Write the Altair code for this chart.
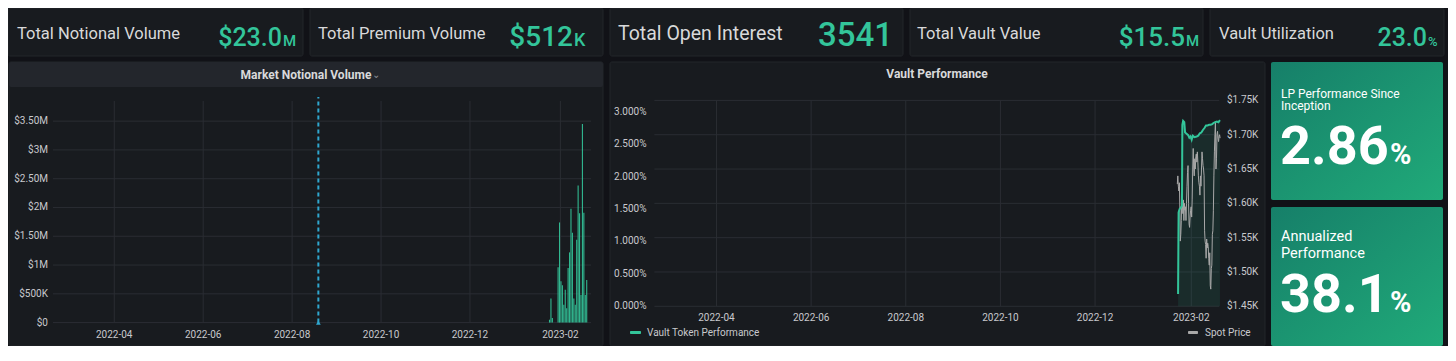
import altair as alt
import pandas as pd

# ---------------- colours / fonts ----------------
BG = "#111217"
PANEL = "#181b1f"
HEADER = "#23262c"
BORDER = "#23262b"
GRID = "#2a2d33"
TXT = "#d8d9da"
AX = "#c8c9cd"
GREEN = "#33c59a"
GRAY = "#a8a8a8"
ANNO = "#2fa7cf"
FONT = "Roboto"
W, H = 1440, 338

# ---------------- stat tiles ----------------
stat_titles = ["Total Notional Volume", "Total Premium Volume", "Total Open Interest",
               "Total Vault Value", "Vault Utilization"]
stat_values = ["$23.0", "$512", "3541", "$15.5", "23.0"]
stat_units = ["M", "K", "", "M", "%"]
lp_title = ["LP Performance Since", "Inception"]
lp_value, lp_unit = "2.86", "%"
ann_title = ["Annualized", "Performance"]
ann_value, ann_unit = "38.1", "%"

# ---------------- Market Notional Volume (daily) ----------------
vol_dates = ["2023-01-27", "2023-01-28", "2023-01-29",
             "2023-02-02", "2023-02-03", "2023-02-04", "2023-02-05", "2023-02-06",
             "2023-02-07", "2023-02-08", "2023-02-09", "2023-02-10", "2023-02-11",
             "2023-02-12", "2023-02-13", "2023-02-14", "2023-02-15", "2023-02-16",
             "2023-02-17", "2023-02-18", "2023-02-19", "2023-02-20", "2023-02-21",
             "2023-02-22"]
vol_values = [0.05e6, 0.42e6, 0.08e6,
              0.96e6, 1.74e6, 0.72e6, 0.65e6, 0.31e6,
              0.57e6, 0.25e6, 0.95e6, 1.22e6, 1.98e6,
              1.56e6, 0.42e6, 0.31e6, 1.44e6, 2.38e6,
              1.90e6, 0.48e6, 3.45e6, 1.91e6, 0.48e6,
              0.74e6]
vol_ticks = [0, 0.5e6, 1e6, 1.5e6, 2e6, 2.5e6, 3e6, 3.5e6]
vol_tick_labels = ["$0", "$500K", "$1M", "$1.50M", "$2M", "$2.50M", "$3M", "$3.50M"]
annotation_date = ["2022-08-19"]

month_ticks = ["2022-04-01", "2022-06-01", "2022-08-01", "2022-10-01", "2022-12-01", "2023-02-01"]
month_labels = ["2022-04", "2022-06", "2022-08", "2022-10", "2022-12", "2023-02"]

# ---------------- Vault Performance ----------------
perf_dates = ["2023-01-23T12:00", "2023-01-23T20:00", "2023-01-24T12:00", "2023-01-25T06:00",
              "2023-01-26T00:00", "2023-01-26T06:00", "2023-01-26T18:00", "2023-01-27T12:00",
              "2023-01-28T00:00", "2023-01-29T00:00", "2023-01-30T00:00", "2023-01-30T18:00",
              "2023-01-31T12:00", "2023-02-01T06:00", "2023-02-02T00:00", "2023-02-03T00:00",
              "2023-02-04T12:00", "2023-02-05T12:00", "2023-02-06T12:00", "2023-02-07T12:00",
              "2023-02-08T12:00", "2023-02-09T12:00", "2023-02-10T12:00", "2023-02-11T12:00",
              "2023-02-12T12:00", "2023-02-13T12:00", "2023-02-14T12:00", "2023-02-15T12:00",
              "2023-02-16T12:00", "2023-02-17T12:00", "2023-02-18T12:00", "2023-02-19T12:00"]
perf_values = [0.19, 1.45, 1.50, 1.52,
               1.55, 2.80, 2.86, 2.84,
               2.68, 2.66, 2.64, 2.60,
               2.62, 2.57, 2.63, 2.61,
               2.62, 2.63, 2.67, 2.68,
               2.72, 2.75, 2.79, 2.79,
               2.80, 2.80, 2.81, 2.83,
               2.84, 2.85, 2.84, 2.87]

spot_dates = ["2023-01-23T00:00", "2023-01-23T08:00", "2023-01-23T16:00", "2023-01-24T00:00",
              "2023-01-24T08:00", "2023-01-24T16:00", "2023-01-24T22:00", "2023-01-25T06:00",
              "2023-01-25T14:00", "2023-01-25T22:00", "2023-01-26T06:00", "2023-01-26T14:00",
              "2023-01-26T22:00", "2023-01-27T06:00", "2023-01-27T14:00", "2023-01-27T22:00",
              "2023-01-28T06:00", "2023-01-28T14:00", "2023-01-28T22:00", "2023-01-29T06:00",
              "2023-01-29T14:00", "2023-01-29T22:00", "2023-01-30T06:00", "2023-01-30T14:00",
              "2023-01-30T22:00", "2023-01-31T06:00", "2023-01-31T14:00", "2023-01-31T22:00",
              "2023-02-01T06:00", "2023-02-01T14:00", "2023-02-01T22:00", "2023-02-02T06:00",
              "2023-02-02T14:00", "2023-02-02T22:00", "2023-02-03T06:00", "2023-02-03T14:00",
              "2023-02-03T22:00", "2023-02-04T06:00", "2023-02-04T14:00", "2023-02-04T22:00",
              "2023-02-05T06:00", "2023-02-05T14:00", "2023-02-05T22:00", "2023-02-06T06:00",
              "2023-02-06T14:00", "2023-02-06T22:00", "2023-02-07T06:00", "2023-02-07T14:00",
              "2023-02-07T22:00", "2023-02-08T06:00", "2023-02-08T14:00", "2023-02-08T22:00",
              "2023-02-09T06:00", "2023-02-09T14:00", "2023-02-09T22:00", "2023-02-10T06:00",
              "2023-02-10T14:00", "2023-02-10T22:00", "2023-02-11T06:00", "2023-02-11T14:00",
              "2023-02-11T22:00", "2023-02-12T06:00", "2023-02-12T14:00", "2023-02-12T22:00",
              "2023-02-13T06:00", "2023-02-13T14:00", "2023-02-13T22:00", "2023-02-14T06:00",
              "2023-02-14T14:00", "2023-02-14T22:00", "2023-02-15T06:00", "2023-02-15T14:00",
              "2023-02-15T22:00", "2023-02-16T06:00", "2023-02-16T14:00", "2023-02-16T22:00",
              "2023-02-17T06:00", "2023-02-17T14:00", "2023-02-17T22:00", "2023-02-18T06:00",
              "2023-02-18T14:00", "2023-02-18T22:00", "2023-02-19T06:00", "2023-02-19T14:00"]
spot_values = [1628, 1640, 1625, 1618,
               1630, 1590, 1545, 1555,
               1575, 1610, 1600, 1585,
               1605, 1575, 1600, 1590,
               1595, 1575, 1600, 1625,
               1645, 1655, 1600, 1570,
               1565, 1580, 1590, 1595,
               1580, 1605, 1650, 1680,
               1650, 1640, 1665, 1650,
               1668, 1672, 1660, 1675,
               1660, 1640, 1630, 1625,
               1612, 1640, 1625, 1650,
               1675, 1665, 1655, 1650,
               1640, 1560, 1545, 1540,
               1520, 1548, 1535, 1542,
               1537, 1520, 1510, 1528,
               1480, 1475, 1505, 1510,
               1555, 1560, 1590, 1640,
               1675, 1700, 1720, 1650,
               1665, 1700, 1705, 1695,
               1690, 1698, 1700, 1695]
pct_ticks = [0, 0.5, 1.0, 1.5, 2.0, 2.5, 3.0]
pct_tick_labels = ["0.000%", "0.500%", "1.000%", "1.500%", "2.000%", "2.500%", "3.000%"]
price_ticks = [1450, 1500, 1550, 1600, 1650, 1700, 1750]
price_tick_labels = ["$1.45K", "$1.50K", "$1.55K", "$1.60K", "$1.65K", "$1.70K", "$1.75K"]

# ---------------- layout (pixel boxes of dashboard panels) ----------------
panel_boxes = pd.DataFrame({
    "x": [0, 302, 602, 902, 1202, 1, 602],
    "x2": [295, 595, 895, 1195, 1436, 595, 1257],
    "y": [0, 0, 0, 0, 0, 54, 54],
    "y2": [48, 48, 48, 48, 48, 338, 338],
})
header_box = pd.DataFrame({"x": [1], "x2": [595], "y": [54], "y2": [79]})
green_boxes = pd.DataFrame({"x": [1263, 1263], "x2": [1435, 1435], "y": [54, 199], "y2": [192, 338]})

pxs = alt.Scale(domain=[0, W], range=[0, W], nice=False, zero=False)
pys = alt.Scale(domain=[0, H], range=[0, H], nice=False, zero=False)

def box_layer(df, **mark):
    return alt.Chart(df).mark_rect(**mark).encode(
        x=alt.X("x:Q", scale=pxs, axis=None), x2="x2:Q",
        y=alt.Y("y:Q", scale=pys, axis=None), y2="y2:Q")

def D(y, m, d):
    return alt.DateTime(year=y, month=m, date=d)

# scales of panel 1
xs1 = alt.Scale(domain=[D(2022, 2, 18), D(2023, 2, 22)], range=[45, 583], nice=False)
ys1 = alt.Scale(domain=[0, 3.85e6], range=[314.6, 93], nice=False, zero=False)
# scales of panel 2
xs2 = alt.Scale(domain=[D(2022, 2, 20), D(2023, 2, 19)], range=[646.4, 1211.2], nice=False)
ysL = alt.Scale(domain=[0, 3.176], range=[298.3, 92.4], nice=False, zero=False)
ysR = alt.Scale(domain=[1450, 1750], range=[298.3, 92.4], nice=False, zero=False)

one = alt.Data(values=[{"a": 1}])

def label(txt, x, y, size, color=TXT, align="left", weight="normal", baseline="middle"):
    return alt.Chart(one).mark_text(text=txt, fontSize=size, color=color, align=align,
                                    fontWeight=weight, baseline=baseline, font=FONT).encode(
        x=alt.value(x), y=alt.value(y))

layers = []
layers.append(box_layer(panel_boxes, fill=PANEL, stroke=BORDER, strokeWidth=1, cornerRadius=2))
layers.append(box_layer(header_box, fill=HEADER, cornerRadius=2))
grad = alt.LinearGradient(gradient="linear",
                          stops=[alt.GradientStop(color="#167f69", offset=0),
                                 alt.GradientStop(color="#20aa79", offset=1)],
                          x1=0, y1=0, x2=1, y2=1)
layers.append(box_layer(green_boxes, fill=grad, cornerRadius=2))

# ---------- panel 1 ----------
h1 = pd.DataFrame({"v": vol_ticks, "x0": "2022-02-18T00:00", "x1": "2023-02-22T00:00"})
layers.append(alt.Chart(h1).mark_rule(color=GRID, strokeWidth=1).encode(
    x=alt.X("x0:T", scale=xs1, axis=None), x2="x1:T",
    y=alt.Y("v:Q", scale=ys1, axis=None)))
v1 = pd.DataFrame({"d": [m + "T00:00" for m in month_ticks], "lo": 0.0, "hi": 3.85e6})
layers.append(alt.Chart(v1).mark_rule(color=GRID, strokeWidth=1).encode(
    x=alt.X("d:T", scale=xs1, axis=None),
    y=alt.Y("lo:Q", scale=ys1, axis=None), y2="hi:Q"))
vol = pd.DataFrame({"d": [d + "T12:00" for d in vol_dates], "v": vol_values})
layers.append(alt.Chart(vol).mark_bar(width=1.1, color=GREEN, opacity=0.92).encode(
    x=alt.X("d:T", scale=xs1, axis=None),
    y=alt.Y("v:Q", scale=ys1, axis=None)))
ann = pd.DataFrame({"d": [a + "T00:00" for a in annotation_date], "lo": 0.0, "hi": 3.92e6})
layers.append(alt.Chart(ann).mark_rule(color=ANNO, strokeWidth=2, strokeDash=[4, 3]).encode(
    x=alt.X("d:T", scale=xs1, axis=None),
    y=alt.Y("lo:Q", scale=ys1, axis=None), y2="hi:Q"))
layers.append(alt.Chart(ann).mark_point(shape="triangle-up", filled=True, size=22,
                                        color=ANNO, opacity=1).encode(
    x=alt.X("d:T", scale=xs1, axis=None),
    y=alt.Y("lo:Q", scale=ys1, axis=None)))
xl1 = pd.DataFrame({"d": [m + "T00:00" for m in month_ticks], "t": month_labels})
layers.append(alt.Chart(xl1).mark_text(fontSize=10, color=AX, font=FONT, baseline="middle").encode(
    x=alt.X("d:T", scale=xs1, axis=None), y=alt.value(326.5), text="t:N"))
yl1 = pd.DataFrame({"v": vol_ticks, "t": vol_tick_labels})
layers.append(alt.Chart(yl1).mark_text(fontSize=10, color=AX, font=FONT, align="right",
                                       baseline="middle").encode(
    x=alt.value(40), y=alt.Y("v:Q", scale=ys1, axis=None), text="t:N"))

# ---------- panel 2 ----------
h2 = pd.DataFrame({"v": price_ticks, "x0": "2022-02-20T00:00", "x1": "2023-02-19T00:00"})
layers.append(alt.Chart(h2).mark_rule(color=GRID, strokeWidth=1).encode(
    x=alt.X("x0:T", scale=xs2, axis=None), x2="x1:T",
    y=alt.Y("v:Q", scale=ysR, axis=None)))
v2 = pd.DataFrame({"d": [m + "T00:00" for m in month_ticks], "lo": 1450, "hi": 1750})
layers.append(alt.Chart(v2).mark_rule(color=GRID, strokeWidth=1).encode(
    x=alt.X("d:T", scale=xs2, axis=None),
    y=alt.Y("lo:Q", scale=ysR, axis=None), y2="hi:Q"))
perf = pd.DataFrame({"d": perf_dates, "v": perf_values})
layers.append(alt.Chart(perf).mark_area(color=GREEN, opacity=0.1).encode(
    x=alt.X("d:T", scale=xs2, axis=None),
    y=alt.Y("v:Q", scale=ysL, axis=None)))
spot = pd.DataFrame({"d": spot_dates, "v": spot_values})
layers.append(alt.Chart(spot).mark_line(color=GRAY, strokeWidth=1).encode(
    x=alt.X("d:T", scale=xs2, axis=None),
    y=alt.Y("v:Q", scale=ysR, axis=None)))
layers.append(alt.Chart(perf).mark_line(color=GREEN, strokeWidth=2).encode(
    x=alt.X("d:T", scale=xs2, axis=None),
    y=alt.Y("v:Q", scale=ysL, axis=None)))
layers.append(alt.Chart(xl1).mark_text(fontSize=10, color=AX, font=FONT, baseline="middle").encode(
    x=alt.X("d:T", scale=xs2, axis=None), y=alt.value(309.8), text="t:N"))
yl2 = pd.DataFrame({"v": pct_ticks, "t": pct_tick_labels})
layers.append(alt.Chart(yl2).mark_text(fontSize=10, color=AX, font=FONT, align="right",
                                       baseline="middle").encode(
    x=alt.value(638.5), y=alt.Y("v:Q", scale=ysL, axis=None), text="t:N"))
yr2 = pd.DataFrame({"v": price_ticks, "t": price_tick_labels})
layers.append(alt.Chart(yr2).mark_text(fontSize=10, color=AX, font=FONT, align="left",
                                       baseline="middle").encode(
    x=alt.value(1219), y=alt.Y("v:Q", scale=ysR, axis=None), text="t:N"))
# legend
layers.append(alt.Chart(one).mark_rect(color=GREEN, cornerRadius=1).encode(
    x=alt.value(622), x2=alt.value(633), y=alt.value(323), y2=alt.value(326)))
layers.append(label("Vault Token Performance", 639, 324.5, 10, color=AX))
layers.append(alt.Chart(one).mark_rect(color=GRAY, cornerRadius=1).encode(
    x=alt.value(1180), x2=alt.value(1190), y=alt.value(323), y2=alt.value(326)))
layers.append(label("Spot Price", 1197, 324.5, 10, color=AX))

# panel titles
layers.append(label("Market Notional Volume", 298, 66.5, 12, weight="bold", align="center"))
layers.append(label("\u2304", 368, 67, 10, color="#8e8e95", align="center"))
layers.append(label("Vault Performance", 929, 65.5, 12, weight="bold", align="center"))

# ---------- stat tiles ----------
title_x = [9, 310, 610, 909, 1211]
title_size = [16.5, 16.5, 19.5, 16.5, 16.5]
value_right = [274, 565, 885, 1177, 1419]
value_size = [25, 28, 33, 26, 25]
unit_size = [15, 18, 15, 15, 13]
for i in range(5):
    layers.append(label(stat_titles[i], title_x[i], 26, title_size[i]))
    layers.append(label(stat_values[i], value_right[i], 38, value_size[i], color=GREEN,
                        align="right", baseline="alphabetic", weight=500))
    if stat_units[i]:
        layers.append(label(stat_units[i], value_right[i] + 1, 38, unit_size[i], color=GREEN,
                            align="left", baseline="alphabetic", weight=500))

# green tiles
layers.append(label(lp_title[0], 1273, 85.5, 12, color="#ffffff"))
layers.append(label(lp_title[1], 1273, 98, 12, color="#ffffff"))
layers.append(label(lp_value, 1272, 155.5, 54, color="#ffffff", baseline="alphabetic", weight="bold"))
layers.append(label(lp_unit, 1382, 155.5, 29, color="#ffffff", baseline="alphabetic", weight="bold"))
layers.append(label(ann_title[0], 1273, 229, 14.5, color="#ffffff"))
layers.append(label(ann_title[1], 1273, 245.5, 14.5, color="#ffffff"))
layers.append(label(ann_value, 1272, 304, 54, color="#ffffff", baseline="alphabetic", weight="bold"))
layers.append(label(ann_unit, 1382, 304, 29, color="#ffffff", baseline="alphabetic", weight="bold"))

chart = alt.layer(*layers).resolve_scale(x="independent", y="independent").properties(
    width=W, height=H, padding=0, background=BG,
    autosize=alt.AutoSizeParams(type="none"),
).configure_view(stroke=None)

chart.save("out.html", embed_options={"renderer": "svg", "actions": False})
